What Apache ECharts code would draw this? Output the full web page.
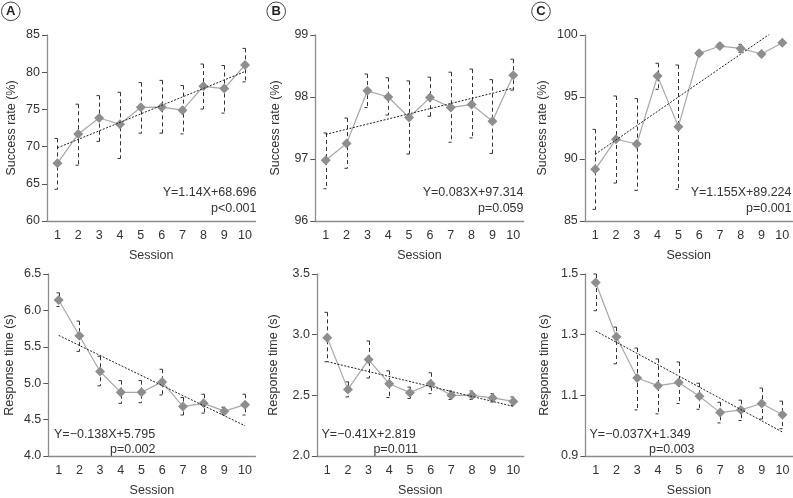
<!DOCTYPE html>
<html>
<head>
<meta charset="utf-8">
<script src="https://cdn.jsdelivr.net/npm/echarts@6/dist/echarts.min.js"></script>
<style>html,body{margin:0;padding:0;background:#fff}#c{width:793px;height:498px}</style>
</head>
<body>
<div id="c"></div>
<script>
// ---- data ----
const sessions = ['1','2','3','4','5','6','7','8','9','10'];

const successA    = [67.75, 71.7, 73.84, 73.0, 75.28, 75.3, 74.9, 78.1, 77.8, 80.97];
const successA_hi = [71.1, 75.7, 76.85, 77.3, 78.6, 78.9, 78.2, 81.1, 80.9, 83.2];
const successA_lo = [64.26, 67.5, 70.7, 68.4, 71.8, 71.8, 71.7, 75.05, 74.5, 78.7];

const successB    = [96.98, 97.25, 98.10, 98.0, 97.67, 97.99, 97.83, 97.88, 97.61, 98.35];
const successB_hi = [97.42, 97.66, 98.37, 98.31, 98.26, 98.32, 98.40, 98.45, 98.28, 98.61];
const successB_lo = [96.52, 96.85, 97.83, 97.71, 97.08, 97.69, 97.27, 97.34, 97.09, 98.11];

const successC    = [89.17, 91.59, 91.21, 96.69, 92.61, 98.52, 99.11, 98.92, 98.47, 99.38];
const successC_hi = [92.39, 95.08, 94.87, 97.72, 97.58, 98.7, 99.3, 99.25, 98.65, 99.5];
const successC_lo = [85.94, 88.06, 87.47, 95.62, 87.55, 98.35, 98.9, 98.6, 98.3, 99.25];

const responseA    = [6.143, 5.652, 5.161, 4.875, 4.875, 5.018, 4.679, 4.723, 4.616, 4.705];
const responseA_hi = [6.241, 5.853, 5.37, 5.036, 5.036, 5.192, 4.804, 4.848, 4.67, 4.848];
const responseA_lo = [6.054, 5.437, 4.964, 4.723, 4.732, 4.839, 4.563, 4.589, 4.571, 4.563];

const responseB    = [2.975, 2.549, 2.795, 2.595, 2.522, 2.595, 2.5, 2.5, 2.479, 2.45];
const responseB_hi = [3.184, 2.611, 2.948, 2.702, 2.568, 2.686, 2.536, 2.536, 2.514, 2.487];
const responseB_lo = [2.777, 2.487, 2.643, 2.482, 2.474, 2.514, 2.466, 2.466, 2.445, 2.418];

const responseC    = [1.472, 1.293, 1.157, 1.132, 1.142, 1.097, 1.043, 1.052, 1.073, 1.036];
const responseC_hi = [1.5, 1.325, 1.256, 1.22, 1.21, 1.14, 1.077, 1.084, 1.124, 1.081];
const responseC_lo = [1.379, 1.204, 1.052, 1.039, 1.073, 1.054, 1.009, 1.017, 1.022, 0.99];

// regression lines [slope, intercept] (line drawn as in the figure)
const trendA  = [1.14, 68.696];
const trendB  = [0.083, 97.314];
const trendC  = [1.155, 89.224];
const trendRA = [-0.138, 5.795];
const trendRB = [-0.041, 2.819];
const trendRC = [-0.037, 1.349];

const eqTexts = ['Y=1.14X+68.696', 'Y=0.083X+97.314', 'Y=1.155X+89.224',
                 'Y=\u22120.138X+5.795', 'Y=\u22120.41X+2.819', 'Y=\u22120.037X+1.349'];
const pTexts  = ['p<0.001', 'p=0.059', 'p=0.001', 'p=0.002', 'p=0.011', 'p=0.003'];

const ticksSA = [60, 65, 70, 75, 80, 85];
const ticksSB = [96, 97, 98, 99];
const ticksSC = [85, 90, 95, 100];
const ticksRA = [4.0, 4.5, 5.0, 5.5, 6.0, 6.5];
const ticksRB = [2.0, 2.5, 3.0, 3.5];
const ticksRC = [0.9, 1.1, 1.3, 1.5];

// ---- layout ----
const FONT = 'Liberation Sans, Arial, sans-serif';
const TXT = '#333';
const AX = '#8c8c8c';
const panels = [
  {v: successA, hi: successA_hi, lo: successA_lo, tr: trendA, ticks: ticksSA, name: 'Success rate (%)', dec: 0,
   left: 47, right: 793-255.5, top: 35, height: 186, nameGap: 29},
  {v: successB, hi: successB_hi, lo: successB_lo, tr: trendB, ticks: ticksSB, name: 'Success rate (%)', dec: 0,
   left: 315.3, right: 793-523.7, top: 35, height: 186, nameGap: 33},
  {v: successC, hi: successC_hi, lo: successC_lo, tr: trendC, ticks: ticksSC, name: 'Success rate (%)', dec: 0,
   left: 584.8, right: 0.3, top: 35, height: 186, nameGap: 36},
  {v: responseA, hi: responseA_hi, lo: responseA_lo, tr: trendRA, ticks: ticksRA, name: 'Response time (s)', dec: 1,
   left: 48.3, right: 793-255.4, top: 274, height: 186.7, nameGap: 32},
  {v: responseB, hi: responseB_hi, lo: responseB_lo, tr: trendRB, ticks: ticksRB, name: 'Response time (s)', dec: 1,
   left: 316.9, right: 793-523.7, top: 274, height: 186.7, nameGap: 37},
  {v: responseC, hi: responseC_hi, lo: responseC_lo, tr: trendRC, ticks: ticksRC, name: 'Response time (s)', dec: 1,
   left: 585.3, right: 0.2, top: 274, height: 186.7, nameGap: 34}
];

const grid = [], xAxis = [], yAxis = [], series = [], graphic = [];
panels.forEach((p, i) => {
  grid.push({left: p.left, right: p.right, top: p.top, height: p.height, containLabel: false});
  xAxis.push({
    type: 'category', gridIndex: i, data: sessions, boundaryGap: true,
    name: 'Session', nameLocation: 'middle', nameGap: i < 3 ? 28 : 28,
    nameTextStyle: {fontFamily: FONT, fontSize: 12.5, color: TXT},
    axisLine: {lineStyle: {color: AX, width: 1.3}},
    axisTick: {alignWithLabel: true, length: 5, lineStyle: {color: '#555'}},
    axisLabel: {fontFamily: FONT, fontSize: 12.5, color: TXT, margin: 8, interval: 0},
    splitLine: {show: false}
  });
  const mn = p.ticks[0], mx = p.ticks[p.ticks.length - 1];
  yAxis.push({
    type: 'value', gridIndex: i, min: mn, max: mx,
    name: p.name, nameLocation: 'middle', nameGap: p.nameGap,
    nameTextStyle: {fontFamily: FONT, fontSize: 12.5, color: TXT},
    axisLine: {show: true, lineStyle: {color: AX, width: 1.3}},
    axisTick: {show: true, length: 5, lineStyle: {color: '#555'}, customValues: p.ticks},
    axisLabel: {fontFamily: FONT, fontSize: 12.5, color: TXT, margin: 7, customValues: p.ticks,
                formatter: v => Number(v).toFixed(p.dec)},
    splitLine: {show: false}
  });
  // error bars
  series.push({
    type: 'custom', xAxisIndex: i, yAxisIndex: i, z: 2,
    data: sessions.map((s, k) => [s, p.lo[k], p.hi[k]]),
    encode: {x: 0, y: [1, 2]},
    renderItem: (params, api) => {
      const lo = api.coord([api.value(0), api.value(1)]);
      const hi = api.coord([api.value(0), api.value(2)]);
      const x = Math.round(lo[0]) + 0.5;
      const st = {stroke: '#333', lineWidth: 1};
      return {type: 'group', children: [
        {type: 'line', shape: {x1: x, y1: hi[1], x2: x, y2: lo[1]}, style: Object.assign({lineDash: [4, 3]}, st)},
        {type: 'line', shape: {x1: x - 3, y1: hi[1], x2: x, y2: hi[1]}, style: st},
        {type: 'line', shape: {x1: x - 3, y1: lo[1], x2: x, y2: lo[1]}, style: st}
      ]};
    }
  });
  // data line
  series.push({
    type: 'line', xAxisIndex: i, yAxisIndex: i, z: 3, data: p.v,
    symbol: 'diamond', symbolSize: 10, showSymbol: true,
    itemStyle: {color: '#8e8e8e'},
    lineStyle: {color: '#a8a8a8', width: 1.2},
    animation: false
  });
  // regression line
  series.push({
    type: 'line', xAxisIndex: i, yAxisIndex: i, z: 4, clip: true,
    data: [['1', p.tr[0] * 1 + p.tr[1]], ['10', p.tr[0] * 10 + p.tr[1]]],
    symbol: 'none', lineStyle: {color: '#222', width: 1, type: [2, 1.5]},
    animation: false
  });
});

// equation texts
const eqPos = [
  {x: 256.5, y: 193, align: 'right'}, {x: 523.5, y: 193, align: 'right'}, {x: 791.5, y: 193, align: 'right'},
  {x: 54, y: 434.5, align: 'left'}, {x: 321.5, y: 434.5, align: 'left'}, {x: 589.5, y: 434.5, align: 'left'}
];
const pPos = [
  {x: 256.5, y: 208.5}, {x: 523.5, y: 208.5}, {x: 791.5, y: 208.5},
  {x: 155.5, y: 449.5}, {x: 418, y: 449.5}, {x: 694.5, y: 449.5}
];
eqPos.forEach((e, i) => {
  graphic.push({type: 'text', x: e.x, y: e.y, style: {text: eqTexts[i], fontFamily: FONT, fontSize: 12.5,
    fill: TXT, align: e.align, verticalAlign: 'middle'}});
  graphic.push({type: 'text', x: pPos[i].x, y: pPos[i].y, style: {text: pTexts[i], fontFamily: FONT, fontSize: 12.5,
    fill: TXT, align: 'right', verticalAlign: 'middle'}});
});
// panel letters
[['A', 10.8], ['B', 276.2], ['C', 541]].forEach(([t, cx]) => {
  graphic.push({type: 'circle', shape: {cx: cx, cy: 11.3, r: 9.3}, style: {fill: '#fff', stroke: '#444', lineWidth: 1}});
  graphic.push({type: 'text', x: cx, y: 11.8, style: {text: t, fontFamily: FONT, fontSize: 13, fontWeight: 'bold',
    fill: '#222', align: 'center', verticalAlign: 'middle'}});
});

const chart = echarts.init(document.getElementById('c'), null, {renderer: 'canvas'});
chart.setOption({animation: false, backgroundColor: '#fff', grid, xAxis, yAxis, series, graphic});
</script>
</body>
</html>
